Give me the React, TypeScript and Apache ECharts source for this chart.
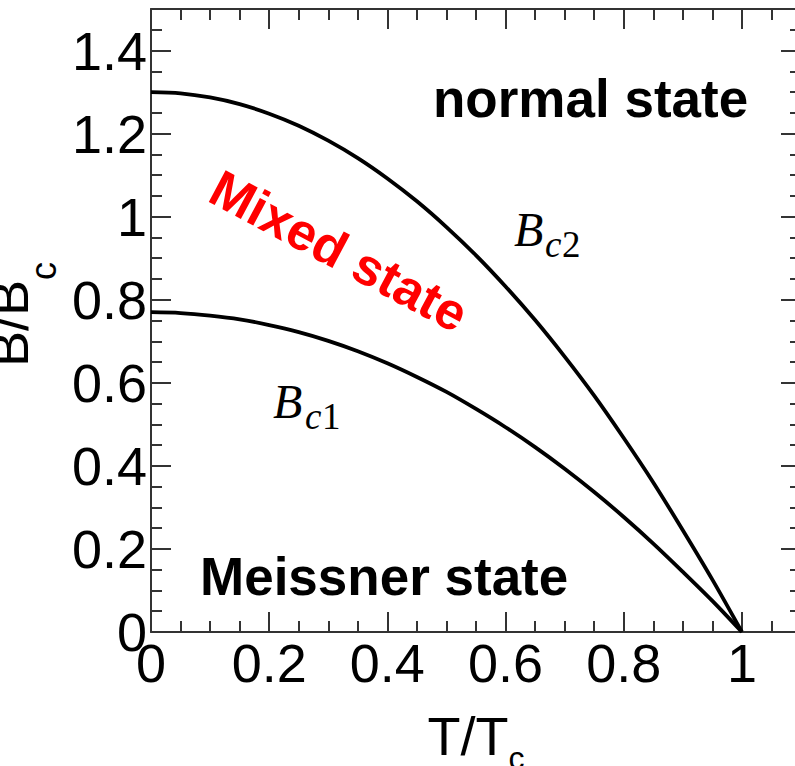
import React, { useEffect, useRef } from "react";
import * as echarts from "echarts";

// ---- data ----
const tValues = [0, 0.05, 0.1, 0.15, 0.2, 0.25, 0.3, 0.35, 0.4, 0.45, 0.5, 0.55, 0.6, 0.65, 0.7, 0.75, 0.8, 0.85, 0.9, 0.95, 1];
const bc2Values = [1.3, 1.297, 1.287, 1.271, 1.248, 1.219, 1.183, 1.141, 1.092, 1.037, 0.975, 0.907, 0.832, 0.751, 0.663, 0.569, 0.467, 0.36, 0.245, 0.126, 0];
const bc1Values = [0.77, 0.768, 0.762, 0.753, 0.739, 0.722, 0.701, 0.676, 0.647, 0.614, 0.578, 0.537, 0.493, 0.445, 0.393, 0.337, 0.277, 0.213, 0.145, 0.075, 0];
const xTickLabels = ["0", "0.2", "0.4", "0.6", "0.8", "1"];
const yTickLabels = ["0", "0.2", "0.4", "0.6", "0.8", "1", "1.2", "1.4"];

const X_MIN = 0;
const X_MAX = 1.1;
const Y_MIN = 0;
const Y_MAX = 1.5;
const MAJOR = 0.2;
const MINOR = 0.05;

const SANS = "'Liberation Sans', Arial, sans-serif";
const SERIF = "'Liberation Serif', 'Times New Roman', serif";
const AXIS_COLOR = "#333";

function labelFor(labels: string[]) {
  return (v: number) => {
    const idx = Math.round(v / MAJOR);
    if (Math.abs(v - idx * MAJOR) < 1e-6 && idx >= 0 && idx < labels.length) return labels[idx];
    return "";
  };
}

function minorAxis(position: string, min: number, max: number) {
  return {
    type: "value",
    position,
    min,
    max,
    interval: MINOR,
    axisLine: { show: true, onZero: false, lineStyle: { color: AXIS_COLOR, width: 2 } },
    axisTick: { show: true, inside: true, length: 11, lineStyle: { color: AXIS_COLOR, width: 2 } },
    axisLabel: { show: false },
    splitLine: { show: false },
  };
}

function majorAxis(position: string, min: number, max: number, labels: string[], showLabels: boolean, margin: number) {
  return {
    type: "value",
    position,
    min,
    max,
    interval: MAJOR,
    axisLine: { show: false, onZero: false },
    axisTick: { show: true, inside: true, length: 20, lineStyle: { color: AXIS_COLOR, width: 2 } },
    axisLabel: {
      show: showLabels,
      showMaxLabel: false,
      margin,
      color: "#000",
      fontSize: 54,
      fontFamily: SANS,
      formatter: labelFor(labels),
    },
    splitLine: { show: false },
  };
}

export default function App() {
  const ref = useRef<HTMLDivElement>(null);

  useEffect(() => {
    if (!ref.current) return;
    document.body.style.margin = "0";
    const chart = echarts.init(ref.current, null, { renderer: "svg" });

    const bc2Data = tValues.map((t, i) => [t, bc2Values[i]]);
    const bc1Data = tValues.map((t, i) => [t, bc1Values[i]]);

    const xMajorBottom: any = majorAxis("bottom", X_MIN, X_MAX, xTickLabels, true, 4);
    xMajorBottom.name = "{a|T/T}{b|c}";
    xMajorBottom.nameLocation = "middle";
    xMajorBottom.nameGap = 77;
    xMajorBottom.nameTextStyle = {
      rich: {
        a: { fontSize: 54, fontFamily: SANS, color: "#000", verticalAlign: "top" },
        b: { fontSize: 32, fontFamily: SANS, color: "#000", verticalAlign: "top", lineHeight: 10, padding: [33, 0, 0, 0] },
      },
    };

    const yMajorLeft: any = majorAxis("left", Y_MIN, Y_MAX, yTickLabels, true, 4);
    yMajorLeft.name = "{a|B/B}{b|c}";
    yMajorLeft.nameLocation = "middle";
    yMajorLeft.nameRotate = 90;
    yMajorLeft.nameGap = 93;
    yMajorLeft.nameTextStyle = {
      rich: {
        a: { fontSize: 54, fontFamily: SANS, color: "#000", verticalAlign: "top", padding: [0, 0, 0, 12] },
        b: { fontSize: 36, fontFamily: SANS, color: "#000", verticalAlign: "top", lineHeight: 10, padding: [43, 0, 0, 0] },
      },
    };

    const lineStyle = { color: "#000", width: 3.8 };
    const sub = (text: string, x: number, y: number, italic: boolean) => ({
      type: "text",
      x,
      y,
      style: { text, fill: "#000", fontSize: 37, fontStyle: italic ? "italic" : "normal", fontFamily: SERIF, align: "left", verticalAlign: "middle" },
    });

    const option: any = {
      animation: false,
      backgroundColor: "#fff",
      grid: { left: 151, top: 9, width: 650, height: 623, containLabel: false, outerBoundsMode: "none" },
      xAxis: [
        minorAxis("bottom", X_MIN, X_MAX),
        xMajorBottom,
        minorAxis("top", X_MIN, X_MAX),
        majorAxis("top", X_MIN, X_MAX, xTickLabels, false, 4),
      ],
      yAxis: [
        minorAxis("left", Y_MIN, Y_MAX),
        yMajorLeft,
        minorAxis("right", Y_MIN, Y_MAX),
        majorAxis("right", Y_MIN, Y_MAX, yTickLabels, false, 4),
      ],
      series: [
        {
          name: "Bc2",
          type: "line",
          xAxisIndex: 0,
          yAxisIndex: 0,
          data: bc2Data,
          smooth: 0.3,
          symbol: "none",
          lineStyle,
        },
        {
          name: "Bc1",
          type: "line",
          xAxisIndex: 0,
          yAxisIndex: 0,
          data: bc1Data,
          smooth: 0.3,
          symbol: "none",
          lineStyle,
        },
      ],
      graphic: [
        {
          type: "text",
          x: 433,
          y: 98.6,
          style: { text: "normal state", fill: "#000", fontSize: 53, fontWeight: "bold", fontFamily: SANS, align: "left", verticalAlign: "middle" },
        },
        {
          type: "text",
          x: 200,
          y: 576.6,
          style: { text: "Meissner state", fill: "#000", fontSize: 53, fontWeight: "bold", fontFamily: SANS, align: "left", verticalAlign: "middle" },
        },
        {
          type: "text",
          x: 339,
          y: 251,
          rotation: -0.49,
          style: { text: "Mixed state", fill: "#ff0000", fontSize: 52, fontWeight: "bold", fontFamily: SANS, align: "center", verticalAlign: "middle" },
        },
        {
          type: "text",
          x: 514,
          y: 229,
          style: { text: "B", fill: "#000", fontSize: 48, fontStyle: "italic", fontFamily: SERIF, align: "left", verticalAlign: "middle" },
        },
        sub("c", 545, 244, true),
        sub("2", 562, 244, false),
        {
          type: "text",
          x: 273,
          y: 401,
          style: { text: "B", fill: "#000", fontSize: 48, fontStyle: "italic", fontFamily: SERIF, align: "left", verticalAlign: "middle" },
        },
        sub("c", 305, 416, true),
        sub("1", 322, 416, false),
      ],
    };

    chart.setOption(option);
    return () => chart.dispose();
  }, []);

  return <div ref={ref} style={{ position: "absolute", left: 0, top: 0, width: 795, height: 766 }} />;
}
